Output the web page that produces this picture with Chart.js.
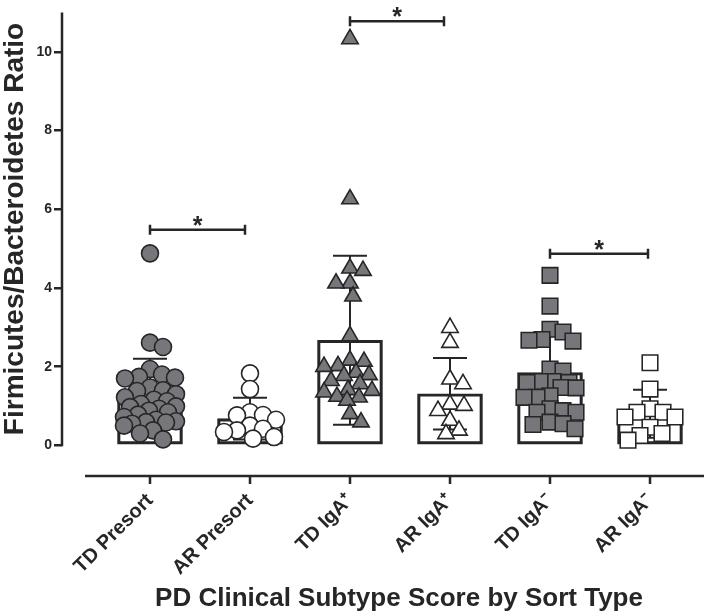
<!DOCTYPE html>
<html>
<head>
<meta charset="utf-8">
<script src="https://cdn.jsdelivr.net/npm/chart.js@4.4.1/dist/chart.umd.min.js"></script>
<style>
  body { margin: 0; background: #fff; }
  #chart { display: block; }
</style>
</head>
<body>
<canvas id="chart" width="718" height="616"></canvas>
<script>
const categories = ['TD Presort', 'AR Presort', 'TD IgA\u207A', 'AR IgA\u207A', 'TD IgA\u207B', 'AR IgA\u207B'];

// individual ratios
const tdPresort = [4.88, 2.61, 2.50, 1.94, 1.80, 1.74, 1.72, 1.70, 1.47, 1.40, 1.38, 1.30, 1.22, 1.16, 1.12, 1.05,
  0.99, 0.97, 0.93, 0.88, 0.84, 0.78, 0.72, 0.65, 0.61, 0.59, 0.58, 0.55, 0.50, 0.38, 0.30, 0.15];
const arPresort = [1.83, 1.43, 0.84, 0.77, 0.76, 0.65, 0.50, 0.42, 0.38, 0.34, 0.21, 0.17];
const tdIgaPos = [10.33, 6.26, 4.50, 4.44, 4.12, 4.12, 3.79, 2.78, 2.16, 2.13, 2.02, 2.00, 1.85, 1.79, 1.77,
  1.64, 1.56, 1.41, 1.39, 1.35, 1.24, 1.22, 1.14, 0.80, 0.59];
const arIgaPos = [2.99, 2.61, 1.68, 1.56, 1.04, 1.01, 0.88, 0.63, 0.38, 0.29];
const tdIgaNeg = [4.32, 3.54, 2.95, 2.88, 2.69, 2.67, 2.65, 1.94, 1.89, 1.62, 1.62, 1.60, 1.60, 1.47, 1.46,
  1.26, 1.22, 1.22, 0.93, 0.88, 0.84, 0.84, 0.59, 0.55, 0.53, 0.42];
const arIgaNeg = [2.10, 1.43, 0.93, 0.84, 0.84, 0.72, 0.72, 0.46, 0.30, 0.25, 0.13];

const groupValues = [tdPresort, arPresort, tdIgaPos, arIgaPos, tdIgaNeg, arIgaNeg];
const groupMeans = [1.26, 0.68, 2.67, 1.31, 1.85, 0.80];
const groupSD = [0.94, 0.53, 2.15, 0.91, 1.00, 0.61];

const yTicks = [0, 2, 4, 6, 8, 10];

// significance brackets (category positions, y value)
const sigFrom = [0, 2, 4];
const sigTo = [0.95, 2.94, 4.98];
const sigY = [5.48, 10.78, 4.87];
const sigLabel = ['*', '*', '*'];

const INK = '#262626';
const GREY = '#77777b';
const FONT = '"Liberation Sans", Arial, Helvetica, sans-serif';

const markerStyle = [
  { pointStyle: 'circle', fill: GREY, r: 8.5 },
  { pointStyle: 'circle', fill: '#ffffff', r: 8.5 },
  { pointStyle: 'triangle', fill: GREY, r: 9.5 },
  { pointStyle: 'triangle', fill: '#ffffff', r: 9.5 },
  { pointStyle: 'rect', fill: GREY, r: 11 },
  { pointStyle: 'rect', fill: '#ffffff', r: 11 }
];

const pointSets = groupValues.map((vals, g) => ({
  type: 'scatter',
  label: categories[g],
  data: vals.map(v => ({ x: g, y: v })),
  pointStyle: markerStyle[g].pointStyle,
  radius: markerStyle[g].r,
  backgroundColor: markerStyle[g].fill,
  borderColor: INK,
  borderWidth: 1.6,
  order: 0
}));

const overlay = {
  id: 'overlay',
  beforeDatasetsDraw(chart) {
    const { ctx, scales: { x, y } } = chart;
    ctx.save();
    ctx.strokeStyle = INK;
    ctx.lineWidth = 2;
    groupMeans.forEach((m, i) => {
      const cx = x.getPixelForValue(i);
      const top = y.getPixelForValue(m + groupSD[i]);
      const bot = y.getPixelForValue(Math.max(0, m - groupSD[i]));
      ctx.beginPath();
      ctx.moveTo(cx, top); ctx.lineTo(cx, bot);
      ctx.moveTo(cx - 17, top); ctx.lineTo(cx + 17, top);
      ctx.moveTo(cx - 17, bot); ctx.lineTo(cx + 17, bot);
      ctx.stroke();
    });
    ctx.restore();
  },
  afterDraw(chart) {
    const { ctx, chartArea, scales: { x, y } } = chart;
    ctx.save();
    ctx.strokeStyle = INK;
    ctx.fillStyle = INK;
    ctx.lineWidth = 2.5;
    // axis lines (offset like the original)
    ctx.beginPath();
    ctx.moveTo(chartArea.left, y.getPixelForValue(11));
    ctx.lineTo(chartArea.left, y.getPixelForValue(0) + 1);
    ctx.moveTo(chartArea.left + 23, chartArea.bottom);
    ctx.lineTo(chartArea.right, chartArea.bottom);
    categories.forEach((c, i) => {
      const tx = x.getPixelForValue(i);
      ctx.moveTo(tx, chartArea.bottom);
      ctx.lineTo(tx, chartArea.bottom + 8);
    });
    ctx.stroke();

    // brackets
    sigFrom.forEach((f, i) => {
      const x1 = x.getPixelForValue(f);
      const x2 = x.getPixelForValue(sigTo[i]);
      const yy = y.getPixelForValue(sigY[i]);
      ctx.beginPath();
      ctx.moveTo(x1, yy); ctx.lineTo(x2, yy);
      ctx.moveTo(x1, yy - 5); ctx.lineTo(x1, yy + 5);
      ctx.moveTo(x2, yy - 5); ctx.lineTo(x2, yy + 5);
      ctx.stroke();
      ctx.font = 'bold 25px ' + FONT;
      ctx.textAlign = 'center';
      ctx.textBaseline = 'alphabetic';
      ctx.fillText(sigLabel[i], (x1 + x2) / 2, yy + 4);
    });

    // axis titles
    ctx.font = 'bold 28px ' + FONT;
    ctx.textAlign = 'center';
    ctx.textBaseline = 'alphabetic';
    ctx.save();
    ctx.translate(23, (y.getPixelForValue(0) + y.getPixelForValue(11)) / 2);
    ctx.rotate(-Math.PI / 2);
    ctx.fillText('Firmicutes/Bacteroidetes Ratio', 0, 0);
    ctx.restore();
    ctx.font = 'bold 26px ' + FONT;
    ctx.fillText('PD Clinical Subtype Score by Sort Type', 399, 606);
    ctx.restore();
  }
};

const chart = new Chart(document.getElementById('chart'), {
  type: 'bar',
  data: {
    datasets: [
      {
        type: 'bar',
        label: 'mean',
        data: groupMeans.map((m, i) => ({ x: i, y: m })),
        backgroundColor: 'rgba(0,0,0,0)',
        borderColor: INK,
        borderWidth: 2.5,
        borderSkipped: false,
        barThickness: 65,
        order: 10
      },
      ...pointSets
    ]
  },
  options: {
    responsive: false,
    animation: false,
    layout: { padding: { top: 10, right: 14, left: 0, bottom: 0 } },
    plugins: { legend: { display: false }, tooltip: { enabled: false } },
    scales: {
      x: {
        type: 'linear',
        offset: false,
        min: -0.88,
        max: 5.54,
        afterFit(scale) { scale.height = 140; scale.paddingLeft = 0; scale.paddingRight = 0; },
        afterBuildTicks(scale) { scale.ticks = categories.map((c, i) => ({ value: i })); },
        grid: { display: false, drawTicks: true, tickLength: 8 },
        border: { display: false },
        ticks: {
          autoSkip: false,
          minRotation: 45,
          maxRotation: 45,
          padding: 5,
          color: INK,
          font: { family: FONT, size: 20, weight: 'bold' },
          callback: v => categories[v]
        }
      },
      y: {
        type: 'linear',
        min: -0.78,
        max: 11,
        afterFit(scale) { scale.width = 62; scale.paddingTop = 0; scale.paddingBottom = 0; },
        afterBuildTicks(scale) { scale.ticks = yTicks.map(v => ({ value: v })); },
        grid: { display: true, drawOnChartArea: false, drawTicks: true, tickLength: 8, color: INK, lineWidth: 2.5 },
        border: { display: false },
        ticks: {
          padding: 2,
          color: INK,
          font: { family: FONT, size: 14, weight: 'bold' }
        }
      }
    }
  },
  plugins: [overlay]
});

// spread the points sideways (beeswarm) using the real scales, then redraw
function swarm(vals, g) {
  const xs = chart.scales.x, ys = chart.scales.y;
  const cx = xs.getPixelForValue(g);
  const d = markerStyle[g].pointStyle === 'rect' ? 16 : 16.5;
  const minDist = d * 0.8;
  const placed = [];
  const out = new Array(vals.length);
  const order = vals.map((v, i) => i).sort((a, b) => vals[b] - vals[a]);
  order.forEach(i => {
    const py = ys.getPixelForValue(vals[i]);
    let best = cx, bestScore = -1, found = false;
    for (let k = 0; k <= 26 && !found; k++) {
      for (const s of (k ? [1, -1] : [1])) {
        const px = cx + s * k;
        let md = Infinity;
        placed.forEach(p => { md = Math.min(md, Math.hypot(p[0] - px, p[1] - py)); });
        if (md >= minDist) { best = px; found = true; break; }
        if (md > bestScore) { bestScore = md; best = px; }
      }
    }
    placed.push([best, py]);
    out[i] = { x: xs.getValueForPixel(best), y: vals[i] };
  });
  return out;
}

groupValues.forEach((vals, g) => { chart.data.datasets[g + 1].data = swarm(vals, g); });
chart.update();
</script>
</body>
</html>
